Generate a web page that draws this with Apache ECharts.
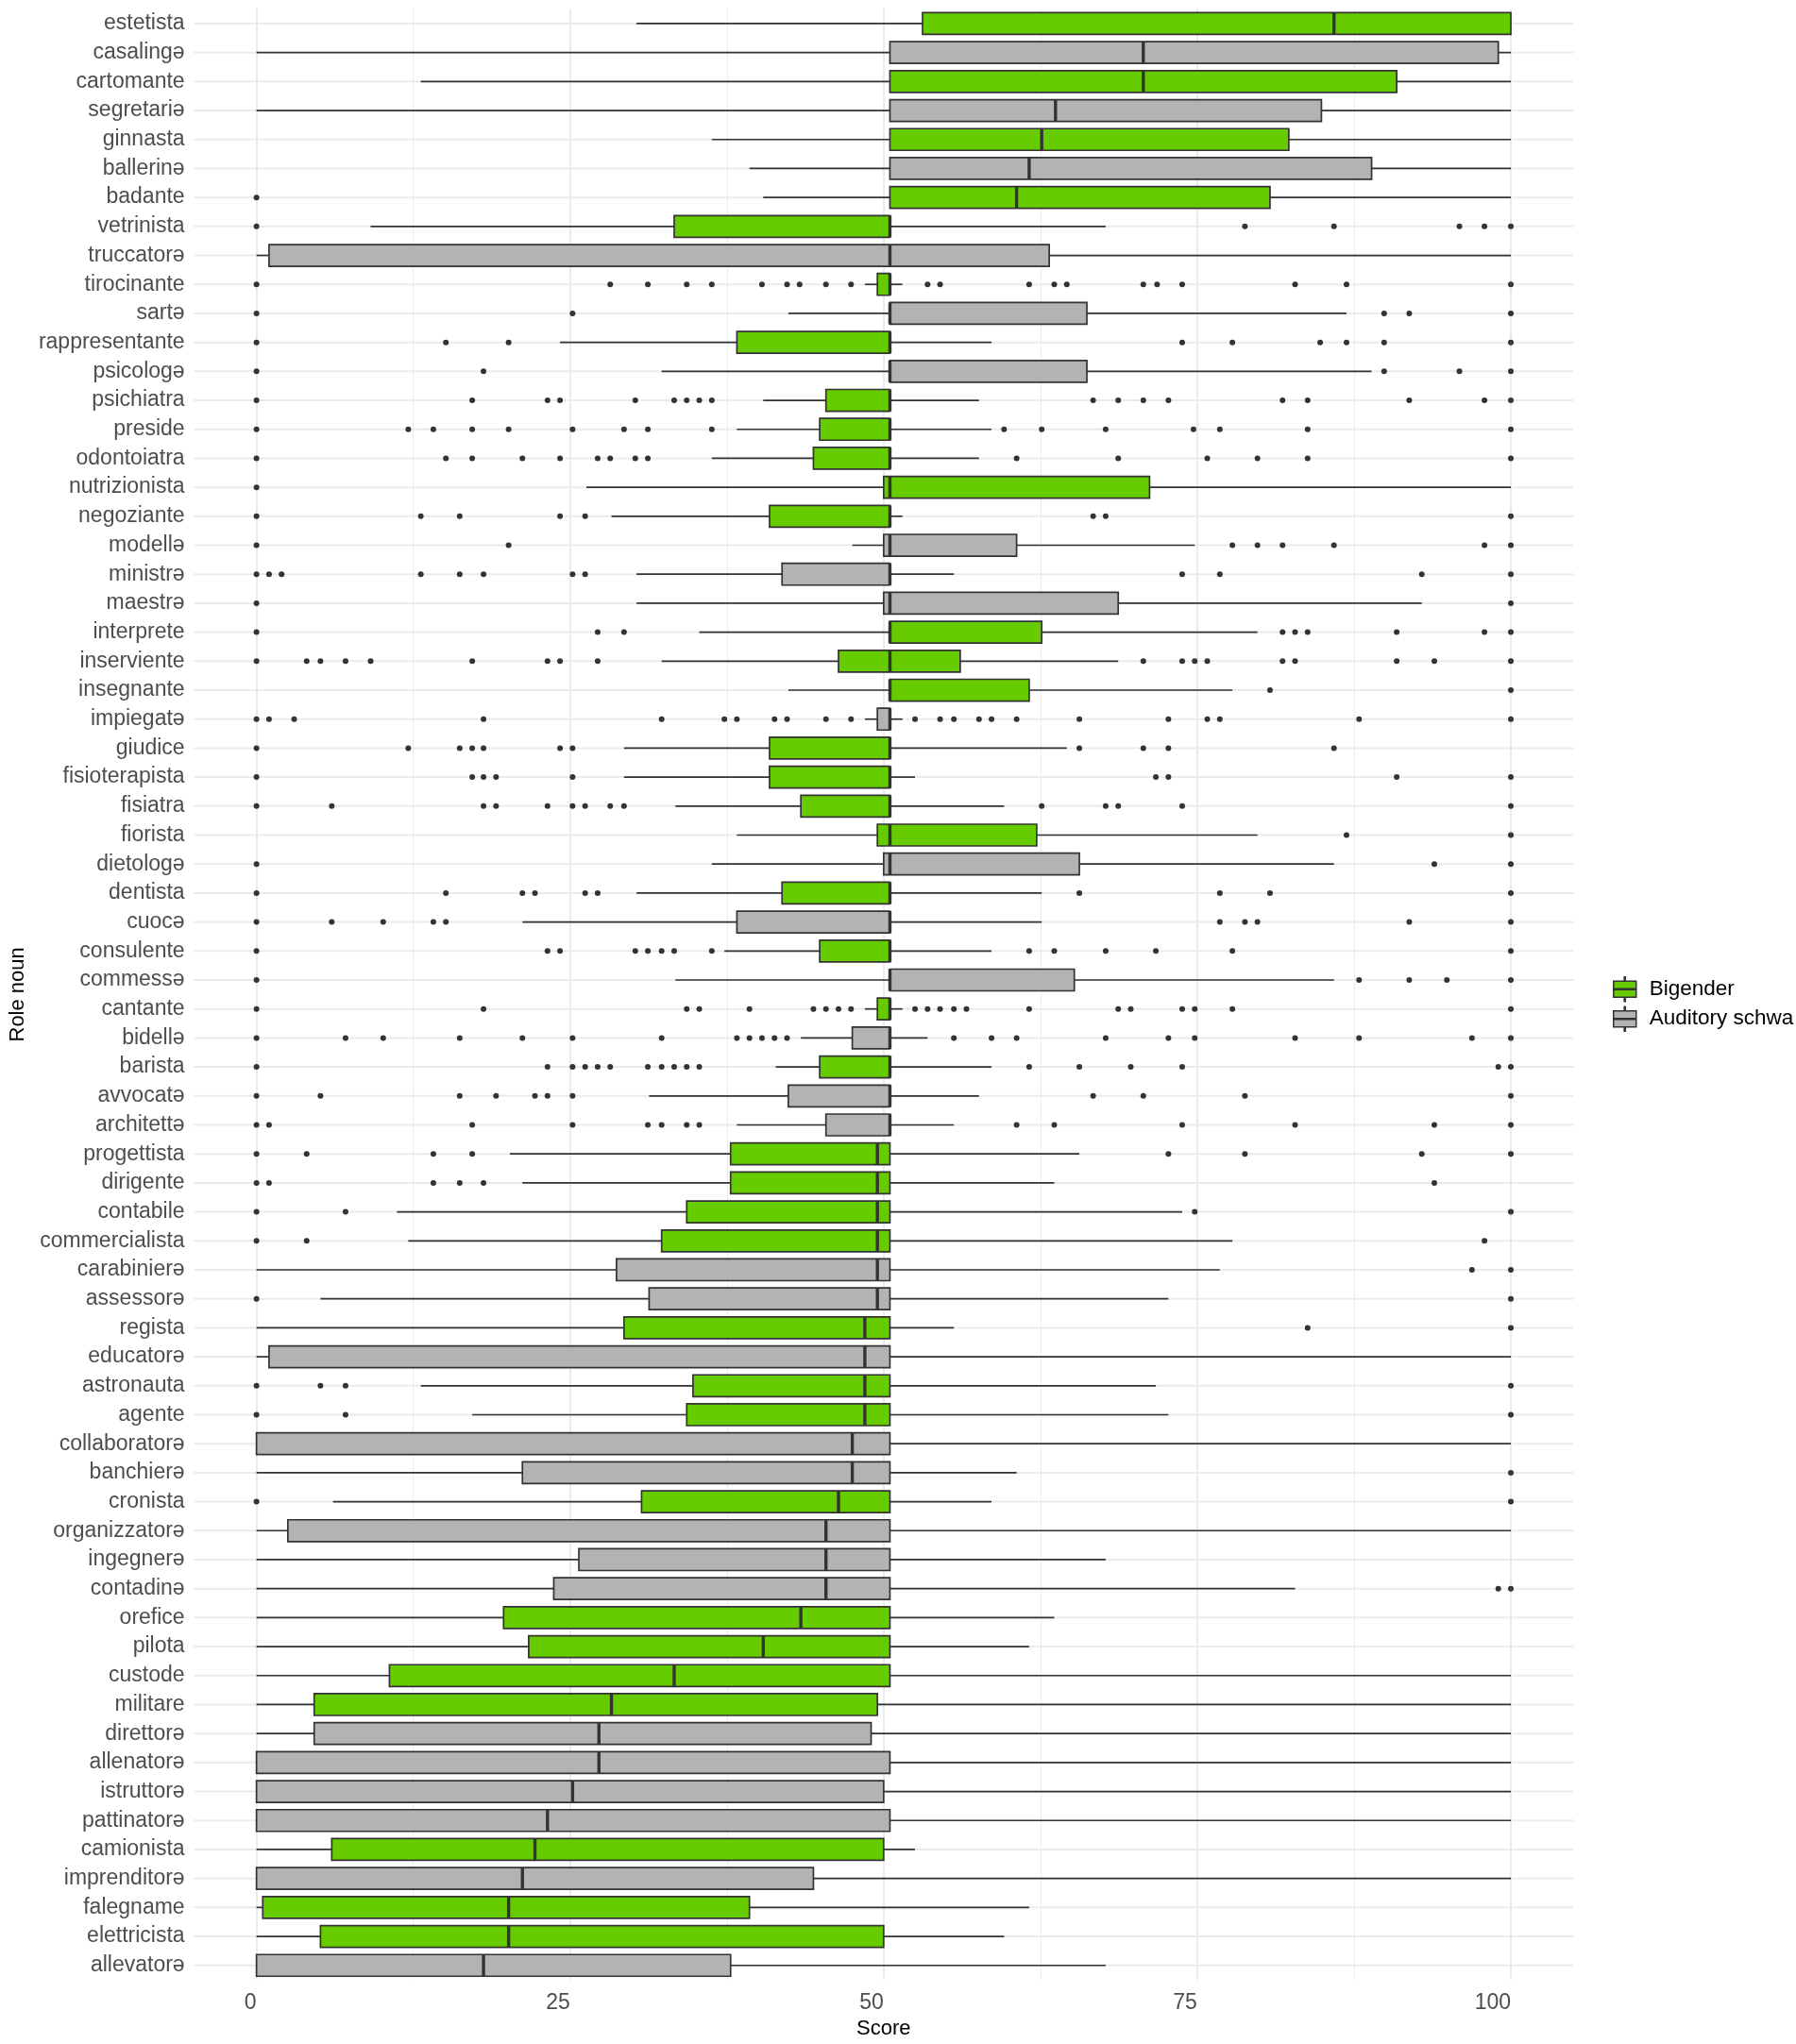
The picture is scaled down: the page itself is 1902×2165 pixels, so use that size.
<!DOCTYPE html>
<html>
<head>
<meta charset="utf-8">
<title>Role noun scores</title>
<script src="https://cdn.jsdelivr.net/npm/echarts@6.0.0/dist/echarts.min.js"></script>
<style>
  html, body { margin: 0; padding: 0; background: #ffffff; }
  #score-chart { width: 1902px; height: 2165px; }
</style>
</head>
<body>
<div id="score-chart"></div>
<script>
const BIGENDER = "Bigender";
const SCHWA = "Auditory schwa";

// rows from top to bottom
const roles = [
  "estetista", "casalingə", "cartomante", "segretariə", "ginnasta", "ballerinə", "badante", "vetrinista", "truccatorə", "tirocinante",
  "sartə", "rappresentante", "psicologə", "psichiatra", "preside", "odontoiatra", "nutrizionista", "negoziante", "modellə", "ministrə",
  "maestrə", "interprete", "inserviente", "insegnante", "impiegatə", "giudice", "fisioterapista", "fisiatra", "fiorista", "dietologə",
  "dentista", "cuocə", "consulente", "commessə", "cantante", "bidellə", "barista", "avvocatə", "architettə", "progettista",
  "dirigente", "contabile", "commercialista", "carabinierə", "assessorə", "regista", "educatorə", "astronauta", "agente", "collaboratorə",
  "banchierə", "cronista", "organizzatorə", "ingegnerə", "contadinə", "orefice", "pilota", "custode", "militare", "direttorə",
  "allenatorə", "istruttorə", "pattinatorə", "camionista", "imprenditorə", "falegname", "elettricista", "allevatorə"
];

const B = BIGENDER, S = SCHWA;
const condition = [
  B, S, B, S, B, S, B, B, S, B,
  S, B, S, B, B, B, B, B, S, S,
  S, B, B, B, S, B, B, B, B, S,
  B, S, B, S, B, S, B, S, S, B,
  B, B, B, S, S, B, S, B, B, S,
  S, B, S, S, S, B, B, B, B, S,
  S, S, S, B, S, B, B, S
];

const whiskerLow = [
  30.3, 0, 13.1, 0, 36.3, 39.3, 40.4, 9.1, 0, 48.5,
  42.4, 24.2, 32.3, 40.4, 38.3, 36.3, 26.3, 28.3, 47.5, 30.3,
  30.3, 35.3, 32.3, 42.4, 48.5, 29.3, 29.3, 33.4, 38.3, 36.3,
  30.3, 21.2, 37.3, 33.4, 48.5, 43.4, 41.4, 31.3, 38.3, 20.2,
  21.2, 11.2, 12.1, 0, 5.1, 0, 0, 13.1, 17.2, 0,
  0, 6.1, 0, 0, 0, 0, 0, 0, 0, 0,
  0, 0, 0, 0, 0, 0, 0, 0
];

const lowerQuartile = [
  53.1, 50.5, 50.5, 50.5, 50.5, 50.5, 50.5, 33.3, 1.0, 49.5,
  50.5, 38.3, 50.5, 45.4, 44.9, 44.4, 50.0, 40.9, 50.0, 41.9,
  50.0, 50.5, 46.4, 50.5, 49.5, 40.9, 40.9, 43.4, 49.5, 50.0,
  41.9, 38.3, 44.9, 50.5, 49.5, 47.5, 44.9, 42.4, 45.4, 37.8,
  37.8, 34.3, 32.3, 28.7, 31.3, 29.3, 1.0, 34.8, 34.3, 0,
  21.2, 30.7, 2.5, 25.7, 23.7, 19.7, 21.7, 10.6, 4.6, 4.6,
  0, 0, 0, 6.0, 0, 0.5, 5.1, 0
];

const medians = [
  85.9, 70.7, 70.7, 63.7, 62.6, 61.6, 60.6, 50.5, 50.5, 50.5,
  50.5, 50.5, 50.5, 50.5, 50.5, 50.5, 50.5, 50.5, 50.5, 50.5,
  50.5, 50.5, 50.5, 50.5, 50.5, 50.5, 50.5, 50.5, 50.5, 50.5,
  50.5, 50.5, 50.5, 50.5, 50.5, 50.5, 50.5, 50.5, 50.5, 49.5,
  49.5, 49.5, 49.5, 49.5, 49.5, 48.5, 48.5, 48.5, 48.5, 47.5,
  47.5, 46.4, 45.4, 45.4, 45.4, 43.4, 40.4, 33.3, 28.3, 27.3,
  27.3, 25.2, 23.2, 22.2, 21.2, 20.1, 20.1, 18.1
];

const upperQuartile = [
  100, 99.0, 90.9, 84.9, 82.3, 88.9, 80.8, 50.5, 63.2, 50.5,
  66.2, 50.5, 66.2, 50.5, 50.5, 50.5, 71.2, 50.5, 60.6, 50.5,
  68.7, 62.6, 56.1, 61.6, 50.5, 50.5, 50.5, 50.5, 62.2, 65.6,
  50.5, 50.5, 50.5, 65.2, 50.5, 50.5, 50.5, 50.5, 50.5, 50.5,
  50.5, 50.5, 50.5, 50.5, 50.5, 50.5, 50.5, 50.5, 50.5, 50.5,
  50.5, 50.5, 50.5, 50.5, 50.5, 50.5, 50.5, 50.5, 49.5, 49.0,
  50.5, 50.0, 50.5, 50.0, 44.4, 39.3, 50.0, 37.8
];

const whiskerHigh = [
  100, 100, 100, 100, 100, 100, 100, 67.7, 100, 51.5,
  86.9, 58.6, 88.9, 57.6, 58.6, 57.6, 100, 51.5, 74.8, 55.6,
  92.9, 79.8, 68.7, 77.8, 51.5, 64.6, 52.5, 59.6, 79.8, 85.9,
  62.6, 62.6, 58.6, 85.9, 51.5, 53.5, 58.6, 57.6, 55.6, 65.6,
  63.6, 73.8, 77.8, 76.8, 72.7, 55.6, 100, 71.7, 72.7, 100,
  60.6, 58.6, 100, 67.7, 82.8, 63.6, 61.6, 100, 100, 100,
  100, 100, 100, 52.5, 100, 61.6, 59.6, 67.7
];

const outliers = [
  [], [], [], [], [], [], [0],
  [0, 78.8, 85.9, 95.9, 97.9, 100],
  [],
  [0, 28.2, 31.2, 34.3, 36.3, 40.3, 42.3, 43.3, 45.4, 47.4, 53.5, 54.5, 61.6, 63.6, 64.6, 70.7, 71.8, 73.8, 82.8, 86.9, 100],
  [0, 25.2, 89.9, 91.9, 100],
  [0, 15.1, 20.1, 73.8, 77.8, 84.8, 86.9, 89.9, 100],
  [0, 18.1, 89.9, 95.9, 100],
  [0, 17.2, 23.2, 24.2, 30.2, 33.3, 34.3, 35.3, 36.3, 66.7, 68.7, 70.7, 72.7, 81.8, 83.8, 91.9, 97.9, 100],
  [0, 12.1, 14.1, 17.2, 20.1, 25.2, 29.3, 31.2, 36.3, 59.6, 62.6, 67.7, 74.7, 76.8, 83.8, 100],
  [0, 15.1, 17.2, 21.2, 24.2, 27.2, 28.2, 30.2, 31.2, 60.6, 68.7, 75.8, 79.8, 83.8, 100],
  [0],
  [0, 13.1, 16.2, 24.2, 26.2, 66.7, 67.7, 100],
  [0, 20.1, 77.8, 79.8, 81.8, 85.9, 97.9, 100],
  [0, 1.0, 2.0, 13.1, 16.2, 18.1, 25.2, 26.2, 73.8, 76.8, 92.9, 100],
  [0, 100],
  [0, 27.2, 29.3, 81.8, 82.8, 83.8, 90.9, 97.9, 100],
  [0, 4.0, 5.1, 7.1, 9.1, 17.2, 23.2, 24.2, 27.2, 70.7, 73.8, 74.8, 75.8, 81.8, 82.8, 90.9, 93.9, 100],
  [80.8, 100],
  [0, 1.0, 3.0, 18.1, 32.3, 37.3, 38.3, 41.3, 42.3, 45.4, 47.4, 52.5, 54.5, 55.6, 57.6, 58.6, 60.6, 65.6, 72.7, 75.8, 76.8, 87.9, 100],
  [0, 12.1, 16.2, 17.2, 18.1, 24.2, 25.2, 65.6, 70.7, 72.7, 85.9],
  [0, 17.2, 18.1, 19.1, 25.2, 71.7, 72.7, 90.9, 100],
  [0, 6.0, 18.1, 19.1, 23.2, 25.2, 26.2, 28.2, 29.3, 62.6, 67.7, 68.7, 73.8, 100],
  [86.9, 100],
  [0, 93.9, 100],
  [0, 15.1, 21.2, 22.2, 26.2, 27.2, 65.6, 76.8, 80.8, 100],
  [0, 6.0, 10.1, 14.1, 15.1, 76.8, 78.8, 79.8, 91.9, 100],
  [0, 23.2, 24.2, 30.2, 31.2, 32.3, 33.3, 36.3, 61.6, 63.6, 67.7, 71.7, 77.8, 100],
  [0, 87.9, 91.9, 94.9, 100],
  [0, 18.1, 34.3, 35.3, 39.3, 44.4, 45.4, 46.4, 47.4, 52.5, 53.5, 54.5, 55.6, 56.6, 61.6, 68.7, 69.7, 73.8, 74.8, 77.8, 100],
  [0, 7.1, 10.1, 16.2, 21.2, 25.2, 32.3, 38.3, 39.3, 40.3, 41.3, 42.3, 55.6, 58.6, 60.6, 67.7, 72.7, 74.8, 82.8, 87.9, 96.9, 100],
  [0, 23.2, 25.2, 26.2, 27.2, 28.2, 31.2, 32.3, 33.3, 34.3, 35.3, 61.6, 65.6, 69.7, 73.8, 99.0, 100],
  [0, 5.1, 16.2, 19.1, 22.2, 23.2, 25.2, 66.7, 70.7, 78.8, 100],
  [0, 1.0, 17.2, 25.2, 31.2, 32.3, 34.3, 35.3, 60.6, 63.6, 73.8, 82.8, 93.9, 100],
  [0, 4.0, 14.1, 17.2, 72.7, 78.8, 92.9, 100],
  [0, 1.0, 14.1, 16.2, 18.1, 93.9],
  [0, 7.1, 74.8, 100],
  [0, 4.0, 97.9],
  [96.9, 100],
  [0, 100],
  [83.8, 100],
  [],
  [0, 5.1, 7.1, 100],
  [0, 7.1, 100],
  [],
  [100],
  [0, 100],
  [], [],
  [99.0, 100],
  [], [], [], [], [], [], [], [], [], [], [], [], []
];

const scoreTicks = [0, 25, 50, 75, 100];
const panelRange = [-5, 105];

const FONT = "'Liberation Sans', Arial, sans-serif";
const COLORS = { [BIGENDER]: "#66CC00", [SCHWA]: "#B3B3B3" };
const OUTLINE = "#333333";
// ggplot-like boxplot key: whiskers, box split by a median line
const BOX_KEY = "path://M11.4,0h1.2v4.6h-1.2Z M0,4.6h24v8h-24Z M0,13.4h24v8h-24Z M11.4,21.4h1.2v4.6h-1.2Z";

document.addEventListener("DOMContentLoaded", function () {
  function boxRows(group) {
    let rows = [];
    roles.forEach((role, i) => {
      if (condition[i] === group) {
        rows.push([i, whiskerLow[i], lowerQuartile[i], medians[i], upperQuartile[i], whiskerHigh[i]]);
      }
    });
    return rows;
  }

  function renderBox(params, api) {
    let row = api.value(0);
    let low = api.coord([api.value(1), row]);
    let q1 = api.coord([api.value(2), row]);
    let mid = api.coord([api.value(3), row]);
    let q3 = api.coord([api.value(4), row]);
    let high = api.coord([api.value(5), row]);
    let half = (api.size([0, 1])[1] * 0.75) / 2;
    let fill = api.visual("color");
    let line = { stroke: OUTLINE, lineWidth: 1.7 };
    return {
      type: "group",
      children: [
        { type: "line", shape: { x1: low[0], y1: low[1], x2: q1[0], y2: q1[1] }, style: line },
        { type: "line", shape: { x1: q3[0], y1: q3[1], x2: high[0], y2: high[1] }, style: line },
        {
          type: "rect",
          shape: { x: q1[0], y: q1[1] - half, width: Math.max(q3[0] - q1[0], 0), height: half * 2 },
          style: { fill: fill, stroke: OUTLINE, lineWidth: 1.7 },
        },
        {
          type: "line",
          shape: { x1: mid[0], y1: mid[1] - half, x2: mid[0], y2: mid[1] + half },
          style: { stroke: OUTLINE, lineWidth: 3.4 },
        },
      ],
    };
  }

  // horizontal major grid line at each role, across the whole panel
  function renderRowLine(params, api) {
    let row = api.value(0);
    let start = api.coord([panelRange[0], row]);
    let end = api.coord([panelRange[1], row]);
    return {
      type: "line",
      shape: { x1: start[0], y1: start[1], x2: end[0], y2: end[1] },
      style: { stroke: "#EBEBEB", lineWidth: 2 },
    };
  }

  let outlierPoints = [];
  outliers.forEach((values, i) => {
    values.forEach((v) => outlierPoints.push([v, i]));
  });

  let chart = echarts.init(document.getElementById("score-chart"), null, {
    renderer: "canvas",
  });

  let option = {
    animation: false,
    backgroundColor: "#ffffff",
    textStyle: { fontFamily: FONT },
    grid: {
      left: 264,
      right: 302,
      top: 9.6,
      bottom: 62.6,
      containLabel: false,
    },
    legend: {
      orient: "vertical",
      left: 1703,
      top: 1029,
      itemWidth: 24,
      itemHeight: 26,
      itemGap: 4,
      icon: BOX_KEY,
      selectedMode: false,
      itemStyle: { borderColor: OUTLINE, borderWidth: 1.5 },
      textStyle: { fontSize: 22.5, color: "#000000", fontFamily: FONT, padding: [0, 0, 0, 9] },
      data: [BIGENDER, SCHWA],
    },
    xAxis: {
      type: "value",
      min: scoreTicks[0],
      max: scoreTicks[scoreTicks.length - 1],
      interval: scoreTicks[1] - scoreTicks[0],
      name: "Score",
      nameLocation: "middle",
      nameGap: 35,
      nameTextStyle: { fontSize: 22, color: "#000000", fontFamily: FONT },
      axisLine: { show: false },
      axisTick: { show: false },
      axisLabel: { fontSize: 23, color: "#4D4D4D", margin: 13, align: "right", fontFamily: FONT },
      splitLine: { show: true, lineStyle: { color: "#EBEBEB", width: 2 } },
      minorTick: { show: false, splitNumber: 2 },
      minorSplitLine: { show: true, lineStyle: { color: "#EBEBEB", width: 1 } },
    },
    yAxis: {
      type: "category",
      data: roles,
      inverse: true,
      name: "Role noun",
      nameLocation: "middle",
      nameGap: 236,
      nameTextStyle: { fontSize: 22, color: "#000000", fontFamily: FONT },
      axisLine: { show: false },
      axisTick: { show: false },
      splitLine: { show: false },
      axisLabel: { fontSize: 23, color: "#4D4D4D", margin: 76, fontFamily: FONT },
    },
    series: [
      {
        name: "rows",
        type: "custom",
        silent: true,
        z: 1,
        renderItem: renderRowLine,
        encode: { y: 0 },
        data: roles.map((role, i) => [i]),
      },
      {
        name: BIGENDER,
        type: "custom",
        z: 3,
        itemStyle: { color: COLORS[BIGENDER] },
        renderItem: renderBox,
        encode: { y: 0, x: [1, 2, 3, 4, 5] },
        data: boxRows(BIGENDER),
      },
      {
        name: SCHWA,
        type: "custom",
        z: 3,
        itemStyle: { color: COLORS[SCHWA] },
        renderItem: renderBox,
        encode: { y: 0, x: [1, 2, 3, 4, 5] },
        data: boxRows(SCHWA),
      },
      {
        name: "outliers",
        type: "scatter",
        z: 4,
        clip: false,
        silent: true,
        symbol: "circle",
        symbolSize: 6,
        itemStyle: { color: OUTLINE, opacity: 1 },
        data: outlierPoints,
      },
    ],
  };
  option && chart.setOption(option);
});
</script>
</body>
</html>
